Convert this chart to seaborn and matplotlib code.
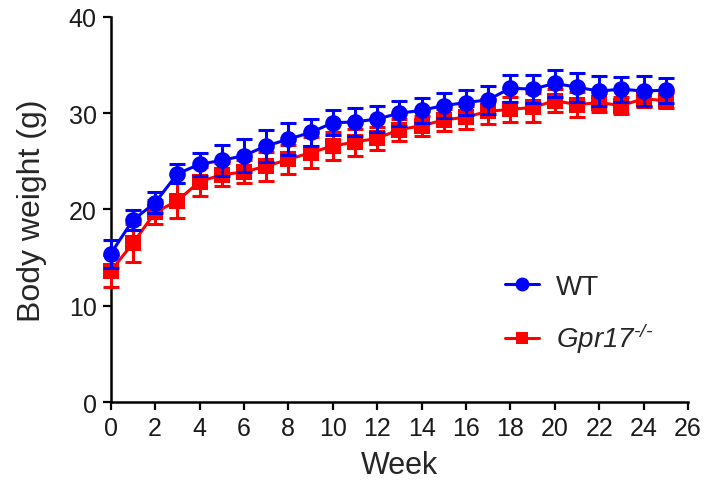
import matplotlib
matplotlib.use("Agg")
import matplotlib.pyplot as plt
import seaborn as sns
import pandas as pd
from matplotlib.lines import Line2D

weeks = list(range(26))
wt_mean = [15.4, 18.9, 20.7, 23.7, 24.7, 25.1, 25.6, 26.6, 27.3, 28.0, 29.0, 29.1, 29.4,
           30.0, 30.3, 30.8, 31.1, 31.4, 32.6, 32.5, 33.1, 32.7, 32.3, 32.5, 32.3, 32.4]
wt_sem = [1.45, 1.0, 1.1, 1.0, 1.2, 1.6, 1.7, 1.65, 1.65, 1.4, 1.3, 1.45, 1.4,
          1.3, 1.3, 1.25, 1.3, 1.45, 1.4, 1.45, 1.4, 1.5, 1.55, 1.3, 1.55, 1.3]
ko_mean = [13.6, 16.5, 19.7, 20.9, 22.9, 23.6, 23.9, 24.5, 25.2, 25.9, 26.6, 27.0, 27.4,
           28.3, 28.7, 29.3, 29.6, 30.2, 30.4, 30.6, 31.3, 30.9, 31.1, 30.8, 31.5, 31.3]
ko_sem = [1.7, 2.0, 1.25, 1.8, 1.5, 1.2, 1.2, 1.5, 1.55, 1.6, 1.45, 1.4, 1.2,
          1.15, 1.05, 1.1, 1.2, 1.3, 1.3, 1.55, 1.2, 1.3, 1.0, 0.9, 0.9, 0.8]
x_ticks = list(range(0, 27, 2))
y_ticks = [0, 10, 20, 30, 40]

sns.set_style("ticks")
plt.rcParams['font.family'] = ['Liberation Sans', 'DejaVu Sans']
plt.rcParams['mathtext.fontset'] = 'custom'
plt.rcParams['mathtext.rm'] = 'Liberation Sans:italic'
plt.rcParams['mathtext.it'] = 'Liberation Sans:italic'

df = pd.concat([
    pd.DataFrame({"Week": weeks, "weight": wt_mean, "sem": wt_sem, "group": "WT"}),
    pd.DataFrame({"Week": weeks, "weight": ko_mean, "sem": ko_sem, "group": "KO"}),
])

fig = plt.figure(figsize=(7.05, 4.85), dpi=100)
ax = fig.add_axes([0.157, 0.169, 0.819, 0.794])

styles = {"KO": dict(color="#FF0000", marker="s", ms=11, z=3),
          "WT": dict(color="#0000FF", marker="o", ms=12, z=4)}

for g in ["KO", "WT"]:
    sub = df[df.group == g]
    st = styles[g]
    ax.errorbar(sub["Week"], sub["weight"], yerr=sub["sem"], fmt="none",
                ecolor=st["color"], elinewidth=2.2, capsize=5.5, capthick=2.2,
                zorder=st["z"], clip_on=False)
    sns.lineplot(data=sub, x="Week", y="weight", ax=ax, color=st["color"],
                 marker=st["marker"], markersize=st["ms"], markeredgewidth=0,
                 linewidth=2.2, zorder=st["z"] + 0.5, clip_on=False, legend=False)

ax.set_xlim(0, 26)
ax.set_ylim(0, 40)
ax.set_xticks(x_ticks)
ax.set_yticks(y_ticks)
ax.tick_params(axis="both", labelsize=18, width=1.6, length=6, color="black",
               labelcolor="#1a1a1a", pad=4)
for s in ["left", "bottom"]:
    ax.spines[s].set_linewidth(1.8)
    ax.spines[s].set_color("black")
sns.despine(ax=ax)
ax.set_xlabel("Week", fontsize=22, labelpad=7)
ax.set_ylabel("Body weight (g)", fontsize=23, labelpad=16)

handles = [
    Line2D([0], [0], color="#0000FF", marker="o", markersize=10, linewidth=2.2, markeredgewidth=0),
    Line2D([0], [0], color="#FF0000", marker="s", markersize=9, linewidth=2.2, markeredgewidth=0),
]
ax.legend(handles, ["WT", "$\\mathrm{Gpr17}^{\\mathrm{\u2010/\u2010}}$"], frameon=False,
          fontsize=20, loc="lower right", bbox_to_anchor=(0.983, 0.056),
          labelspacing=0.75, handlelength=1.25, handletextpad=0.6)

fig.savefig("out.png", dpi=100)
